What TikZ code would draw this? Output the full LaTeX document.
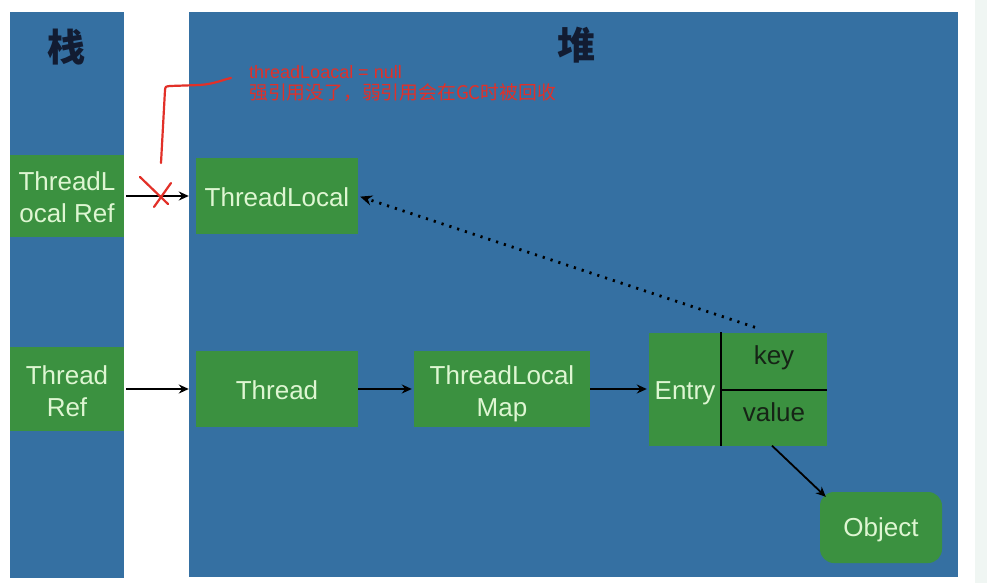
\documentclass[tikz,border=0pt]{standalone}
\usepackage{fontspec}
\setmainfont{Liberation Sans}
\newfontfamily\cjk{Noto Sans CJK SC}
\usetikzlibrary{arrows.meta,calc}
\definecolor{panelblue}{RGB}{53,112,162}
\definecolor{boxgreen}{RGB}{59,145,64}
\definecolor{lighttext}{RGB}{222,246,210}
\definecolor{darktext}{RGB}{22,36,22}
\definecolor{redink}{RGB}{226,48,40}
\definecolor{navy}{RGB}{18,28,50}
\definecolor{sidestrip}{RGB}{240,246,243}
\begin{document}
\begin{tikzpicture}[x=1pt,y=-1pt,
  panel/.style={fill=panelblue,draw=none},
  gbox/.style={fill=boxgreen,draw=none,inner sep=0pt},
  gtext/.style={text=lighttext,font=\fontsize{26}{32}\selectfont,align=center,inner sep=0pt},
  dtext/.style={gtext,text=darktext},
  arr/.style={-{Stealth[length=10pt,width=9pt]},line width=1.8pt,black},
  dotarr/.style={-{Stealth[length=12pt,width=10pt]},line width=2.8pt,black,dash pattern=on 2.2pt off 6pt},
  redline/.style={draw=redink,line width=2.2pt,line cap=round,line join=round},
  title/.style={text=navy,font=\cjk\bfseries\fontsize{38}{40}\selectfont}]
\useasboundingbox (0,0) rectangle (987,583);
\fill[white] (0,0) rectangle (987,583);
\fill[sidestrip] (975,0) rectangle (987,583);
% panels
\fill[panel] (10,12) rectangle (124,578);
\fill[panel] (189,12) rectangle (958,577);
\node[title] (stack) at (66,47) {栈};
\node[title] (heap) at (576,45) {堆};
% boxes
\node[gbox,minimum width=114pt,minimum height=82pt] (tlref) at (67,196) {};
\node[gbox,minimum width=114pt,minimum height=84pt] (tref) at (67,389) {};
\node[gbox,minimum width=162pt,minimum height=76pt] (tl) at (277,196) {};
\node[gbox,minimum width=162pt,minimum height=76pt] (thread) at (277,389) {};
\node[gbox,minimum width=176pt,minimum height=76pt] (map) at (502,389) {};
\node[gbox,minimum width=72pt,minimum height=113pt] (entry) at (685,389) {};
\node[gbox,minimum width=106pt,minimum height=57pt] (key) at (774,361) {};
\node[gbox,minimum width=106pt,minimum height=56pt] (value) at (774,417.5) {};
\node[gbox,rounded corners=14pt,minimum width=122pt,minimum height=71pt] (object) at (881,527.5) {};
\draw[line width=2pt,black] (entry.north east) -- (entry.south east);
\draw[line width=2pt,black] (key.south west) -- (key.south east);
% texts
\node[gtext] (tlreft) at ($(tlref.center)+(0,1)$) {ThreadL\\ocal Ref};
\node[gtext] (treft) at ($(tref.center)+(0,2)$) {Thread\\Ref};
\node[gtext] (tlt) at ($(tl.center)+(0,1)$) {ThreadLocal};
\node[gtext] (threadt) at ($(thread.center)+(0,1)$) {Thread};
\node[gtext] (mapt) at ($(map.center)+(0,5)$) {ThreadLocal\\Map};
\node[gtext] (entryt) at ($(entry.center)+(0,4)$) {Entry};
\node[dtext] (keyt) at ($(key.center)+(0,-3)$) {key};
\node[dtext] (valuet) at ($(value.center)+(0,-5)$) {value};
\node[gtext] (objectt) at ($(object.center)+(0,2)$) {Object};
% arrows
\draw[arr,shorten <=2pt,shorten >=7pt] (tlref.east) -- (tl.west);
\draw[arr,shorten <=2pt,shorten >=7pt] (tref.east) -- (thread.west);
\draw[arr,shorten >=2pt] (thread.east) -- (map.west);
\draw[arr,shorten >=2pt] (map.east) -- (entry.west);
\draw[arr] ($(value.south)+(-2,0)$) -- ($(object.north west)+(6,5)$);
\draw[dotarr,shorten >=2pt] ($(key.north)+(-19,-5)$) -- (tl.east);
% red annotation
\draw[redline] (140,177) -- (168,204);
\draw[redline] (154,207) -- (171,183);
\coordinate (markstart) at (161,163);
\draw[redline] (markstart) -- (165,90) .. controls (165.5,86.5) .. (170,86) -- (200,85) .. controls (214,84) and (222,80) .. (231,78);
\node[anchor=north west,text=redink,align=left,inner sep=0pt,font=\fontsize{18}{21}\selectfont] (note) at (249,65) {threadLoacal = null\\{\cjk\fontsize{18.8}{21}\selectfont 强引用没了，弱引用会在GC时被回收}};
\end{tikzpicture}
\end{document}
